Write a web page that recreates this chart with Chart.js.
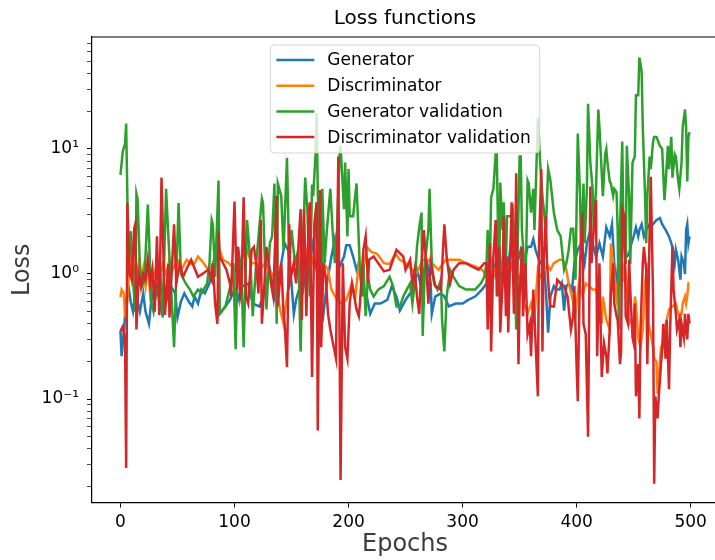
<!DOCTYPE html>
<html>
<head>
<meta charset="utf-8">
<script src="https://cdn.jsdelivr.net/npm/chart.js@4.4.1/dist/chart.umd.min.js"></script>
<style>
html, body { margin: 0; padding: 0; background: #fff; overflow: hidden; }
#wrap { width: 715px; height: 560px; overflow: hidden; }
</style>
</head>
<body>
<div id="wrap"><canvas id="loss" width="840" height="560"></canvas></div>
<script>
var chartTitle = 'Loss functions';
var seriesNames = ['Generator', 'Discriminator', 'Generator validation', 'Discriminator validation'];
var seriesColors = ['#1f77b4', '#ff7f0e', '#2ca02c', '#d62728'];
var xTicks = [0, 100, 200, 300, 400, 500];
var yMajorTicks = [0.1, 1, 10];
var yTickLabels = ['10\u207B\u00B9', '10\u2070', '10\u00B9'];

// Generator
var genEpochs = [0,1,3,5,7,9,11,13,15,17,20,22,25,27,30,33,36,40,44,48,50,53,56,60,63,65,68,71,74,78,81,83,86,87,92,96,100,103,106,112,116,122,127,131,135,140,144,147,150,152,154,158,160,163,168,171,174,178,181,185,188,191,196,198,201,204,207,209,212,216,219,223,228,234,238,242,245,250,254,257,260,263,266,269,272,273,276,281,284,288,294,300,305,311,317,321,323,326,329,332,335,338,339,342,345,348,351,354,357,360,362,364,366,368,371,373,375,377,380,382,385,387,389,391,393,396,398,401,404,407,409,412,414,417,420,423,426,429,431,433,435,436,438,440,442,444,446,448,450,452,454,455,457,459,461,464,467,470,473,475,478,481,484,486,487,489,491,492,494,495,496,497,498,499];
var genLoss = [0.35,0.22,0.35,0.6,0.8,0.6,0.5,0.7,0.6,0.5,0.7,0.5,0.4,0.6,0.8,0.7,0.5,0.6,0.8,0.7,0.45,0.6,0.7,0.6,0.55,0.66,0.58,0.75,0.7,0.84,1.2,1.38,1.38,0.48,0.55,0.62,0.75,0.62,0.79,0.84,0.58,0.55,0.75,1.08,0.66,1.08,1.76,1.56,0.84,0.48,0.62,0.84,0.75,1.08,1.76,1.22,0.84,0.48,0.84,1.38,1.9,1.08,1.38,1.7,1.7,1.38,1.08,1.22,0.75,0.66,0.48,0.58,0.58,0.62,0.8,0.66,0.51,0.62,0.7,0.75,1.08,0.84,1.08,1.22,0.84,0.48,0.66,0.7,0.66,0.55,0.58,0.58,0.62,0.66,0.75,0.84,1.22,0.84,1.22,1.65,0.84,1.38,0.95,1.65,1.38,1.22,1.56,1.22,1.65,1.65,1.9,1.56,1.38,1.22,1.3,0.75,0.34,0.66,0.8,0.75,0.75,0.84,0.51,0.8,0.84,0.75,1.22,1.56,1.76,1.22,1.76,2.25,1.76,1.38,1.76,1.38,2.36,2.0,2.5,1.22,0.7,1.08,1.76,1.56,1.76,1.38,1.45,1.76,2.0,2.36,2.0,2.25,2.5,2.0,2.25,2.5,2.5,2.7,2.8,2.5,2.25,2.0,1.65,1.22,1.56,1.3,0.9,1.38,1.22,1.0,2.25,2.5,1.76,2.0];

// Discriminator
var discEpochs = [0,1,3,4,6,8,10,12,14,16,18,20,22,24,26,28,31,34,37,40,43,46,50,54,58,62,65,68,73,77,80,83,87,90,95,100,106,111,115,119,122,127,131,135,140,143,146,150,154,158,161,165,169,174,178,182,185,190,194,198,203,206,209,212,216,220,225,231,236,241,245,250,256,260,265,270,273,279,285,291,297,303,311,317,320,323,325,330,335,338,342,347,351,354,357,360,363,366,368,371,375,377,380,385,388,391,393,396,399,402,405,408,411,414,417,420,422,423,426,429,430,432,434,435,438,439,441,442,444,446,448,450,451,452,454,456,458,460,462,463,465,467,468,470,471,473,474,476,477,479,481,484,487,489,490,492,493,495,496,497,498,499];
var discLoss = [0.65,0.75,0.7,0.45,0.6,1.4,0.9,1.1,0.9,1.2,0.8,1.1,0.8,1.2,0.7,0.9,1.1,0.9,1.2,1.0,1.3,1.1,1.3,1.1,1.3,1.2,1.22,1.38,1.22,1.08,1.15,1.3,1.56,1.3,1.22,1.08,1.3,1.56,1.22,1.22,1.08,1.22,1.08,0.9,0.52,0.4,0.66,1.08,1.3,1.15,1.08,1.76,1.22,1.9,1.22,1.08,0.75,0.62,0.58,0.62,0.84,0.66,1.22,0.95,1.65,1.5,1.45,1.22,1.2,1.45,1.3,1.22,1.08,1.02,1.3,1.3,1.22,1.08,1.3,1.3,1.3,1.22,1.15,1.08,1.0,0.84,1.3,0.9,1.2,1.02,1.22,0.84,1.0,0.58,0.48,0.58,0.46,1.08,0.95,1.08,1.15,1.08,1.22,1.3,1.3,1.08,0.84,0.66,0.48,0.84,0.66,0.84,0.8,0.75,0.75,0.55,0.4,0.66,0.43,0.36,1.76,1.22,0.8,0.66,1.22,0.84,0.9,1.22,0.84,0.4,0.43,0.36,0.66,0.58,0.31,0.26,0.36,0.84,1.22,0.4,0.33,0.26,0.21,0.2,0.11,0.2,0.26,0.28,0.36,0.43,0.52,0.55,0.58,0.48,0.46,0.48,0.58,0.66,0.58,0.66,0.84,0.84];

// Generator validation
var genValEpochs = [0,2,4,5,7,9,11,13,14,15,17,19,21,24,25,27,29,32,35,37,40,42,44,47,51,53,57,61,64,68,71,76,78,80,81,83,86,87,92,97,99,101,103,106,108,111,114,116,119,124,125,128,131,133,135,137,138,141,143,146,148,150,153,156,158,160,162,164,166,168,169,171,172,174,176,177,179,181,184,186,188,190,192,193,196,197,199,200,201,204,207,210,212,213,215,217,219,222,226,231,236,239,242,245,248,251,254,256,258,260,262,264,265,267,270,271,273,275,278,281,282,284,286,289,292,297,303,307,311,316,319,321,322,324,325,327,329,330,332,333,335,336,338,339,342,344,345,347,348,350,351,352,354,355,357,358,360,362,363,365,366,368,370,373,375,377,380,383,386,389,391,393,395,397,399,401,403,404,406,407,409,410,412,414,415,417,419,420,423,425,426,427,429,430,432,433,435,436,437,438,440,441,443,444,446,447,449,451,452,454,455,457,458,460,461,462,464,465,467,468,470,473,475,477,478,480,481,483,484,486,487,489,490,492,493,495,496,497,498,499];
var genValLoss = [6.2,9.5,11,16,1.2,2.2,0.9,0.5,4.4,4.0,1.2,0.8,0.9,3.6,2.0,0.6,0.5,0.8,1.0,0.45,4.8,2.0,0.9,0.26,3.7,1.0,0.85,0.75,0.66,0.75,0.7,0.84,1.2,2.7,2.5,0.95,5.6,0.48,0.55,0.84,1.22,0.25,1.65,1.08,0.26,2.7,1.22,0.46,1.22,4.0,3.7,0.52,1.76,2.0,5.3,0.4,5.3,4.2,1.56,8.5,1.22,2.25,1.22,1.56,0.24,1.76,5.9,3.1,0.66,5.2,4.2,8.7,19.3,1.22,0.33,4.8,1.22,2.25,4.8,2.25,1.22,2.25,8.7,10.6,3.3,7.8,2.0,6.9,2.9,2.9,5.3,1.08,0.66,1.22,0.46,0.95,0.75,0.66,0.75,0.8,0.95,0.8,0.55,0.55,0.66,0.75,0.84,0.58,0.84,1.65,2.36,3.1,0.32,1.22,2.25,4.8,1.22,0.84,0.75,0.9,0.43,0.24,0.66,1.08,0.95,0.8,0.75,0.75,0.75,0.84,0.95,1.22,2.25,1.22,4.1,4.8,9.1,9.1,0.66,5.4,2.25,3.75,1.22,2.9,2.9,3.3,2.25,0.36,1.22,8.7,8.7,2.25,1.22,0.66,5.6,5.3,3.1,4.8,2.25,8.7,17.8,7.8,4.2,2.25,6.9,5.6,3.1,2.25,2.0,1.08,1.22,1.56,2.3,2.3,0.9,13.3,4.2,1.3,5.3,1.76,4.8,23,7.8,4.8,2.25,4.8,20.7,14.9,4.2,9.1,10,7.8,5.5,5.3,4.2,4.8,4.5,2.2,0.36,2.25,11.5,2.25,1.2,10.6,4.2,1.2,7.8,8.7,26.9,26.9,54,42,14.9,4.2,1.76,4.2,8.7,6.9,11.5,12.5,12.5,10.6,10,3.9,5.3,10.6,6.9,12.5,5.9,9.1,8.7,5.6,4.8,7.8,14.9,20.7,14.9,5.5,12.5,13.6];

// Discriminator validation
var discValEpochs = [0,2,4,5,6,8,10,12,13,14,16,18,20,22,24,26,28,30,32,34,36,39,42,43,47,49,52,55,58,62,68,73,77,80,81,83,85,86,87,90,93,96,97,100,102,103,105,106,108,110,112,115,117,119,121,123,124,127,128,130,132,134,137,138,141,143,144,146,148,149,152,154,158,159,161,163,165,166,168,170,172,173,175,176,178,180,182,184,187,189,191,193,195,197,199,201,203,205,207,209,210,213,215,217,218,222,231,236,242,248,250,254,256,258,260,262,264,266,268,269,270,272,273,276,281,284,286,289,292,297,303,308,314,319,321,322,324,325,327,329,330,332,333,335,336,338,339,340,343,345,346,347,349,350,352,353,355,357,359,360,362,363,366,367,369,370,371,373,374,376,377,380,383,386,389,392,395,397,398,400,401,403,405,406,408,410,412,413,415,417,418,420,421,422,424,426,427,429,430,432,433,435,436,438,439,440,442,443,445,446,447,449,450,451,452,454,455,456,458,459,461,462,464,465,467,468,469,471,472,474,475,476,478,479,481,482,484,485,487,488,490,491,492,494,495,496,497,498,499];
var discValLoss = [0.35,0.38,0.3,0.028,3.7,1.0,0.9,2.3,2.5,0.36,1.0,0.8,1.0,0.9,1.3,0.85,1.1,0.5,2.0,0.47,5.9,0.47,1.2,0.45,2.5,0.85,1.2,0.95,1.1,1.3,0.95,1.02,1.08,0.9,1.22,0.58,0.4,2.2,1.38,1.22,1.08,0.84,0.66,3.8,0.75,1.65,0.66,0.75,4.1,0.66,0.58,1.56,1.65,1.22,0.7,2.7,0.4,1.08,1.65,1.22,0.84,0.66,4.2,0.55,1.22,0.48,0.4,0.18,2.5,0.9,1.22,0.84,3.3,0.43,3.3,0.46,2.9,3.75,0.15,2.5,3.75,0.056,4.7,0.26,1.22,0.95,0.48,0.36,0.26,0.21,8.7,0.0225,1.22,0.26,0.21,0.58,0.84,0.66,0.52,0.46,0.58,1.56,2.0,0.84,1.3,1.38,1.05,1.08,1.56,1.38,1.08,1.3,0.84,1.08,0.66,0.48,1.22,2.25,1.22,0.84,0.58,1.22,1.08,0.8,0.75,2.5,1.38,0.84,1.08,1.22,1.22,1.15,1.08,1.22,1.22,0.36,1.76,0.24,1.38,2.7,0.66,1.65,0.34,0.84,2.9,0.46,1.38,0.34,3.75,0.48,1.22,6.4,0.19,0.66,1.65,0.46,1.22,0.33,0.4,0.22,0.75,0.46,0.105,1.65,6.9,0.24,1.22,2.9,1.22,0.66,0.55,0.55,0.9,0.84,0.8,0.66,0.36,0.46,0.8,0.18,0.096,1.22,3.1,0.4,0.33,0.05,5.0,1.22,2.25,3.9,0.22,1.22,0.4,0.15,0.28,0.22,0.16,0.36,0.66,1.22,0.58,0.46,0.43,0.19,0.24,3.3,2.9,0.46,0.4,1.3,0.75,0.31,0.28,0.58,0.105,0.19,0.07,0.36,1.22,1.65,1.08,0.19,2.25,6.0,0.66,0.021,0.105,0.07,0.105,0.19,0.25,0.4,0.21,0.43,0.12,0.36,1.65,0.75,0.48,0.36,0.43,0.26,0.4,0.31,0.48,0.36,0.3,0.48,0.4];

function makeSet(i, epochs, values, order) {
	return {
		label: seriesNames[i],
		data: epochs.map(function(e, k) { return {x: e, y: values[k]}; }),
		borderColor: seriesColors[i],
		backgroundColor: seriesColors[i],
		borderWidth: 2.5,
		pointRadius: 0,
		tension: 0,
		fill: false,
		order: order
	};
}

// title over the axes, top spine and a matplotlib style legend box
var frameAndLegend = {
	id: 'frameAndLegend',
	afterDatasetsDraw: function(chart) {
		var ctx = chart.ctx, a = chart.chartArea;
		var cx = (a.left + a.right) / 2;
		ctx.save();
		ctx.strokeStyle = '#000';
		ctx.lineWidth = 1.2;
		ctx.beginPath();
		ctx.moveTo(a.left, a.top);
		ctx.lineTo(a.right, a.top);
		ctx.stroke();

		ctx.font = '20px "DejaVu Sans"';
		ctx.fillStyle = '#000';
		ctx.textAlign = 'center';
		ctx.textBaseline = 'middle';
		ctx.fillText(chartTitle, cx, 19);

		ctx.textAlign = 'left';
		ctx.font = '17px "DejaVu Sans"';
		var w = 0;
		seriesNames.forEach(function(n) { w = Math.max(w, ctx.measureText(n).width); });
		var bw = w + 66, bh = 108;
		var bx = cx - bw / 2, by = a.top + 8;
		ctx.beginPath();
		ctx.roundRect(bx, by, bw, bh, 4);
		ctx.fillStyle = 'rgba(255,255,255,0.8)';
		ctx.fill();
		ctx.strokeStyle = 'rgba(204,204,204,0.8)';
		ctx.lineWidth = 1;
		ctx.stroke();
		seriesNames.forEach(function(n, i) {
			var y = by + 15 + i * 25.7;
			ctx.strokeStyle = seriesColors[i];
			ctx.lineWidth = 2.5;
			ctx.beginPath();
			ctx.moveTo(bx + 6, y);
			ctx.lineTo(bx + 44, y);
			ctx.stroke();
			ctx.fillStyle = '#000';
			ctx.fillText(n, bx + 57, y + 1);
		});
		ctx.restore();
	}
};

var config = {
	type: 'line',
	data: {
		datasets: [
			makeSet(0, genEpochs, genLoss, 3),
			makeSet(1, discEpochs, discLoss, 2),
			makeSet(2, genValEpochs, genValLoss, 1),
			makeSet(3, discValEpochs, discValLoss, 0)
		]
	},
	plugins: [frameAndLegend],
	options: {
		responsive: false,
		animation: false,
		layout: { padding: { left: 0, right: 122, top: 37, bottom: 0 } },
		plugins: {
			legend: { display: false },
			tooltip: { enabled: false },
			title: { display: false }
		},
		scales: {
			x: {
				type: 'linear',
				min: -24.95,
				max: 523.95,
				afterBuildTicks: function(s) { s.ticks = xTicks.map(function(v) { return {value: v}; }); },
				afterFit: function(s) { s.height = 57.5; },
				ticks: {
					autoSkip: false,
					maxRotation: 0,
					padding: 5,
					color: '#000',
					font: { family: 'DejaVu Sans', size: 17 }
				},
				grid: { drawOnChartArea: false, tickLength: 5, color: '#000', lineWidth: 1 },
				border: { display: true, color: '#000', width: 1.2 },
				title: {
					display: true,
					text: 'Epochs',
					color: '#3c3c3c',
					font: { family: 'DejaVu Sans', size: 24 },
					padding: { top: 0, bottom: 1 }
				}
			},
			y: {
				type: 'logarithmic',
				min: 0.01486,
				max: 78.7,
				afterBuildTicks: function(s) {
					var list = [];
					for (var d = -2; d <= 1; d++) {
						for (var m = 1; m <= 9; m++) {
							var v = m * Math.pow(10, d);
							if (v >= s.min && v <= s.max) list.push({value: v});
						}
					}
					s.ticks = list;
				},
				afterFit: function(s) { s.width = 92; },
				ticks: {
					autoSkip: false,
					padding: 8,
					color: '#000',
					font: { family: 'DejaVu Sans', size: 17 },
					callback: function(v) {
						for (var i = 0; i < yMajorTicks.length; i++) {
							if (Math.abs(v - yMajorTicks[i]) < 1e-9 * yMajorTicks[i] + 1e-12) return yTickLabels[i];
						}
						return '';
					}
				},
				grid: {
					drawOnChartArea: false,
					tickLength: 5,
					color: '#000',
					lineWidth: function(c) {
						var v = c.tick ? c.tick.value : 0;
						return yMajorTicks.some(function(m) { return Math.abs(v - m) < 1e-9; }) ? 1 : 0.7;
					}
				},
				border: { display: true, color: '#000', width: 1.2 },
				title: {
					display: true,
					text: 'Loss',
					color: '#3c3c3c',
					font: { family: 'DejaVu Sans', size: 24 },
					padding: { top: 8, bottom: 0 }
				}
			}
		}
	}
};

window.onload = function() {
	window.lossChart = new Chart(document.getElementById('loss'), config);
};
</script>
</body>
</html>
